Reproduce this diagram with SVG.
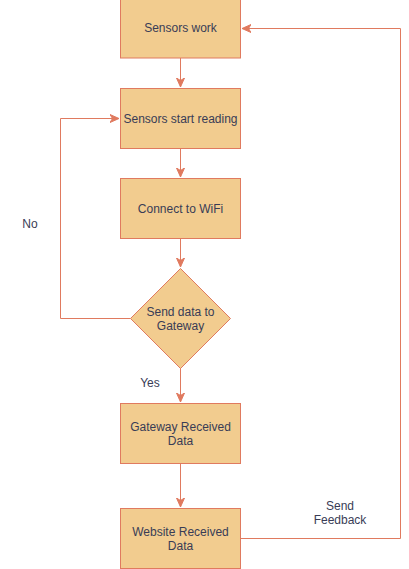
<svg xmlns="http://www.w3.org/2000/svg" width="409" height="569" viewBox="0 0 409 569">
<style>
.n{fill:#F2CC8F;stroke:#E07A5F;stroke-width:1}
.t{font-family:"Liberation Sans",Arial,sans-serif;font-size:12px;fill:#393C56;text-anchor:middle}
.e{fill:none;stroke:#E07A5F;stroke-width:1}
</style>
<defs>
<marker id="a" markerUnits="userSpaceOnUse" markerWidth="10" markerHeight="10" viewBox="0 0 10 10" refX="9" refY="5" orient="auto">
<path d="M0,1 L9,5 L0,9 L2.5,5 Z" fill="#E07A5F" stroke="#E07A5F" stroke-width="1"/>
</marker>
</defs>
<rect width="409" height="569" fill="#FFFFFF"/>
<g id="edges">
<path class="e" d="M180.5,58 L180.5,87" marker-end="url(#a)"/>
<path class="e" d="M180.5,148 L180.5,177" marker-end="url(#a)"/>
<path class="e" d="M180.5,238 L180.5,267" marker-end="url(#a)"/>
<path class="e" d="M130.5,318.5 L60.5,318.5 L60.5,118.5 L119,118.5" marker-end="url(#a)"/>
<path class="e" d="M180.5,368 L180.5,402" marker-end="url(#a)"/>
<path class="e" d="M180.5,463 L180.5,507" marker-end="url(#a)"/>
<path class="e" d="M240.5,538.5 L400.5,538.5 L400.5,28.5 L242,28.5" marker-end="url(#a)"/>
<text class="t" x="30" y="228">No</text>
<text class="t" x="150" y="387">Yes</text>
<text class="t" x="340" y="510">Send</text>
<text class="t" x="340" y="524">Feedback</text>
</g>
<g id="n1"><rect class="n" x="120.5" y="-2" width="120" height="60"/><text class="t" x="180.5" y="32">Sensors work</text></g>
<g id="n2"><rect class="n" x="120.5" y="88.5" width="120" height="60"/><text class="t" x="180.5" y="122.5">Sensors start reading</text></g>
<g id="n3"><rect class="n" x="120.5" y="178.5" width="120" height="60"/><text class="t" x="180.5" y="212.5">Connect to WiFi</text></g>
<g id="n4"><path class="n" d="M180.5,268.5 L230.5,318.5 L180.5,368.5 L130.5,318.5 Z"/><text class="t" x="180.5" y="316">Send data to</text><text class="t" x="180.5" y="330">Gateway</text></g>
<g id="n5"><rect class="n" x="120.5" y="403.5" width="120" height="60"/><text class="t" x="180.5" y="431">Gateway Received</text><text class="t" x="180.5" y="445">Data</text></g>
<g id="n6"><rect class="n" x="120.5" y="508.5" width="120" height="60"/><text class="t" x="180.5" y="536">Website Received</text><text class="t" x="180.5" y="550">Data</text></g>
</svg>
